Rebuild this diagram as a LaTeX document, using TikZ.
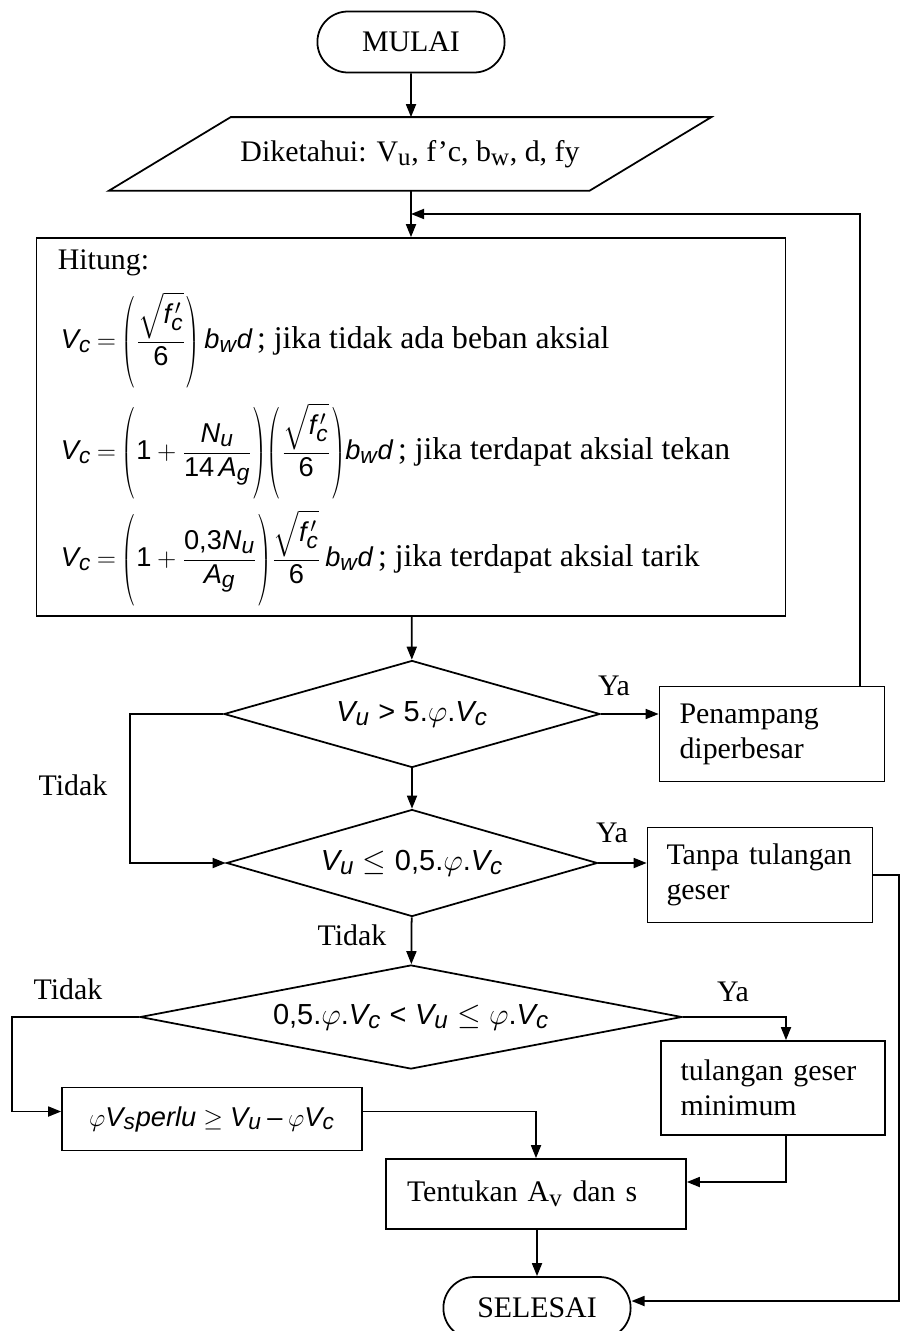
\documentclass[tikz,border=0pt]{standalone}
\usepackage{amsmath}
\usepackage{graphicx}
\usepackage{fontspec}
\setmainfont{Liberation Sans}
\usepackage[italic]{mathastext}
\setmainfont{Liberation Serif}
\setsansfont{Liberation Sans}
\usepackage{tikz}
\usetikzlibrary{shapes.geometric,shapes.misc,arrows.meta,positioning,calc}
\newcommand{\fsz}{\fontsize{17}{20}\selectfont}
\newcommand{\angka}[1]{\text{\sffamily #1}}
\newcommand{\tinggi}{\rule[-0.73cm]{0pt}{1.7cm}}
\newcommand{\kiri}{\mathopen{\scalebox{0.6}[1]{$\left(\tinggi\right.$}}}
\newcommand{\kanan}{\mathclose{\scalebox{0.6}[1]{$\left.\tinggi\right)$}}}
\newcommand{\rumus}[1]{{\fontsize{15.5}{18}\selectfont\delimiterfactor=1000\delimitershortfall=0pt\thickmuskip=4mu$\displaystyle #1$}}

\begin{document}
\begin{tikzpicture}[
    x=0.02cm, y=-0.02cm, line width=1pt,
    >={Triangle[length=0.26cm,width=0.2cm]},
    every node/.style={font=\fsz},
    term/.style={rounded rectangle, draw, minimum width=3.98cm, minimum height=1.22cm},
    io/.style={rectangle, minimum width=9.58cm, minimum height=1.44cm},
    proc/.style={rectangle, draw, inner sep=0pt},
    decision/.style={diamond, draw, inner sep=0pt, font=\fontsize{16.5}{19}\selectfont},
    eqline/.style={anchor=west, inner sep=0pt, font=\fontsize{18}{21}\selectfont},
    lbl/.style={inner sep=1pt}
]
\useasboundingbox (0,0) rectangle (901,1331);

\node[term] (mulai) at (411,42) {MULAI};
\node[io] (input) at (410,154) {Diketahui: V\textsubscript{u}, f’c, b\textsubscript{w}, d, fy};
\draw ($(input.north west)+(61,0)$) -- ($(input.north east)+(61,0)$)
   -- ($(input.south east)+(-61,0)$) -- ($(input.south west)+(-61,0)$) -- cycle;
\node[proc, minimum width=14.98cm, minimum height=7.56cm] (hitung) at (411,427) {};
\node[anchor=west, inner sep=0pt] (hit0) at (57,263) {Hitung:};
\node[eqline] (eq1) at (60,340) {\rumus{V_c = \kiri\dfrac{\sqrt{f_c^{\,\prime}}}{\angka{6}}\kanan\, b_w d}\,; jika tidak ada beban aksial};
\node[eqline] (eq2) at (60,451) {\rumus{V_c = \kiri\angka{1}+\dfrac{N_u}{\angka{14}\,A_g}\kanan\kiri\dfrac{\sqrt{f_c^{\,\prime}}}{\angka{6}}\kanan b_w d}\,; jika terdapat aksial tekan};
\node[eqline] (eq3) at (60,558) {\rumus{V_c = \kiri\angka{1}+\dfrac{\angka{0,3}N_u}{A_g}\kanan\dfrac{\sqrt{f_c^{\,\prime}}}{\angka{6}}\, b_w d}\,; jika terdapat aksial tarik};

% cek kuat geser
\node[decision, aspect=3.48, minimum width=7.52cm, minimum height=2.14cm] (cek1) at (412,714) {$V_u > \angka{5.}\varphi\angka{.}V_c$};
\node[decision, aspect=3.5, minimum width=7.42cm, minimum height=2.14cm] (cek2) at (412,863) {$V_u \le \angka{0,5.}\varphi\angka{.}V_c$};
\node[decision, aspect=5.2, minimum width=10.84cm, minimum height=2.08cm] (cek3) at (411,1017) {$\angka{0,5.}\varphi\angka{.}V_c < V_u \le \varphi\angka{.}V_c$};

\node[proc, minimum width=4.5cm, minimum height=1.9cm, text width=3.7cm, align=left] (besar) at (772,734) {Penampang\\diperbesar};
\node[proc, minimum width=4.5cm, minimum height=1.9cm, text width=3.74cm, align=left] (tanpa) at (760,875) {Tanpa tulangan\\geser};
\node[proc, minimum width=4.48cm, minimum height=1.88cm, text width=3.7cm, align=left] (tmin) at (773,1088) {tulangan geser\\minimum};
\node[proc, minimum width=6cm, minimum height=1.26cm, font=\fontsize{15.5}{18}\selectfont] (perlu) at (212,1119) {$\varphi V_s perlu \ge V_u - \varphi V_c$};
\node[proc, minimum width=6cm, minimum height=1.4cm, text width=5.16cm, align=left] (tent) at (536,1194) {Tentukan A\textsubscript{v} dan s};
\node[term, minimum height=1.24cm] (selesai) at (537,1308) {SELESAI};

% label
\node[lbl] (ya1) at (614,686) {Ya};
\node[lbl] (ya2) at (612,833) {Ya};
\node[lbl] (ya3) at (733,992) {Ya};
\node[lbl] (td1) at (73,785) {Tidak};
\node[lbl] (td2) at (352,935) {Tidak};
\node[lbl] (td3) at (68,989) {Tidak};

\coordinate (fb) at (860,214);
\coordinate (k1) at (130,714);
\coordinate (k3) at (12,1017);
\coordinate (y3) at (786,1017);
\coordinate (m3) at (786,1182);
\coordinate (rc) at (899,1301);
\coordinate (pin) at ([yshift=0.15cm]perlu.west);
\coordinate (pout) at ([yshift=0.15cm]perlu.east);

\draw[->] (mulai) -- (mulai |- input.north);
\draw[->] (mulai |- input.south) -- (mulai |- hitung.north);
\draw[->] (hitung) -- (cek1);
\draw[->] (cek1.east) -- (cek1.east -| besar.west);
\draw[->] (besar.north -| fb) -- (fb) -- (fb -| mulai);
\draw[->] (cek1.west) -- (k1) -- (k1 |- cek2.west) -- (cek2.west);
\draw[->] (cek1) -- (cek2);
\draw[->] (cek2.east) -- (cek2.east -| tanpa.west);
\draw[->] (tanpa.east) -- (tanpa.east -| rc) -- (rc) -- (rc -| selesai.east);
\draw[->] (cek2) -- (cek3);
\draw[->] (cek3.west) -- (k3) -- (k3 |- pin) -- (pin);
\draw[->] (cek3.east) -- (y3) -- (y3 |- tmin.north);
\draw[->] (y3 |- tmin.south) -- (m3) -- (m3 -| tent.east);
\draw[->] (pout) -- (pout -| tent.north) -- (tent.north);
\draw[->] (tent.south -| selesai) -- (selesai);
\end{tikzpicture}
\end{document}
